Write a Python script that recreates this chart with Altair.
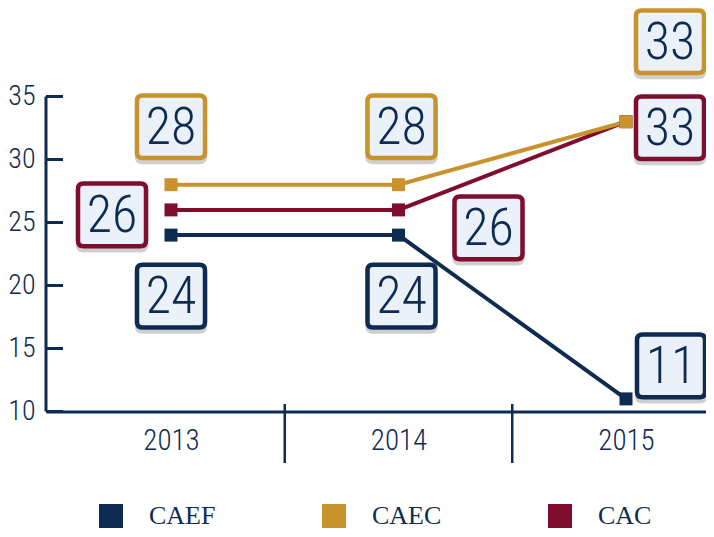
import altair as alt
import pandas as pd

# ---- data ----
years = [2013, 2014, 2015]
series = ["CAEF", "CAEC", "CAC"]
caef = [24, 24, 11]
caec = [28, 28, 33]
cac = [26, 26, 33]
y_ticks = [10, 15, 20, 25, 30, 35]
colors = ["#0E2B52", "#C8922D", "#7F0D2E"]

# ---- layout / style ----
NAVY = colors[0]
NARROW = "Roboto Condensed"
SERIF = "Liberation Serif"
W, H = 660, 403.5
PX_YEAR = 227.5
PX_UNIT = 12.6
X0 = 2013 - 125 / PX_YEAR
X1 = X0 + W / PX_YEAR
Y0 = 10
Y1 = Y0 + H / PX_UNIT

values = {"CAEF": caef, "CAEC": caec, "CAC": cac}
col = dict(zip(series, colors))
draw_order = ["CAEF", "CAC", "CAEC"]

# label box offsets from the data point, in pixels (right, down)
label_offsets = {
    ("CAEF", 2013): (0, 61), ("CAEF", 2014): (3, 61), ("CAEF", 2015): (45, -33),
    ("CAC", 2013): (-59, 5), ("CAC", 2014): (90, 18), ("CAC", 2015): (44, 6),
    ("CAEC", 2013): (0, -58), ("CAEC", 2014): (3, -58), ("CAEC", 2015): (44, -80),
}

rows = [dict(series=s, year=y, value=v)
        for s in draw_order for y, v in zip(years, values[s])]
df = pd.DataFrame(rows)

lab_rows = []
for s in draw_order:
    for y, v in zip(years, values[s]):
        dx, dy = label_offsets[(s, y)]
        lab_rows.append(dict(series=s, lx=y + dx / PX_YEAR, ly=v - dy / PX_UNIT, text=str(v)))
labs = pd.DataFrame(lab_rows)

ticks_df = pd.DataFrame({"t": y_ticks})
yline_df = pd.DataFrame({"a": [max(y_ticks)], "b": [min(y_ticks)]})
bounds_df = pd.DataFrame({"b": [(a + b) / 2 for a, b in zip(years[:-1], years[1:])]})

xscale = alt.Scale(domain=[X0, X1], nice=False, zero=False)
yscale = alt.Scale(domain=[Y0, Y1], nice=False, zero=False)

x_axis = alt.Axis(values=years, format="d", ticks=False, tickSize=0, grid=False, domain=True,
                  domainColor=NAVY, domainWidth=3, labelFont=NARROW, labelFontSize=29,
                  labelFontWeight=300, labelColor=NAVY, labelPadding=15, title=None)
y_axis = alt.Axis(values=y_ticks, ticks=False, tickSize=0, grid=False, domain=False,
                  labelFont=NARROW, labelFontSize=28, labelFontWeight=300, labelColor=NAVY,
                  labelPadding=11, title=None)


def X(field):
    return alt.X(field, scale=xscale, axis=x_axis)


def Y(field):
    return alt.Y(field, scale=yscale, axis=y_axis)


layers = []

# y tick marks drawn inward
layers.append(alt.Chart(ticks_df).mark_rule(color=NAVY, strokeWidth=3).encode(
    y=Y("t:Q"), x=alt.value(0), x2=alt.value(17)
))

# x axis carrier
layers.append(alt.Chart(pd.DataFrame({"year": years})).mark_point(opacity=0).encode(
    x=X("year:Q"), y=alt.value(H)
))

# y axis line from 10 to 35
layers.append(alt.Chart(yline_df).mark_rule(color=NAVY, strokeWidth=3).encode(
    x=alt.value(0), y=Y("a:Q"), y2="b:Q"
))

# category separators
layers.append(alt.Chart(bounds_df).mark_rule(color=NAVY, strokeWidth=2.5).encode(
    x=X("b:Q"), y=alt.value(H - 7.5), y2=alt.value(H + 51.5)
))

for s in draw_order:
    layers.append(
        alt.Chart(df[df.series == s]).mark_line(color=col[s], strokeWidth=4).encode(
            x=X("year:Q"), y=Y("value:Q")
        )
    )

layers.append(alt.Chart(df).mark_point(shape="square", filled=True, size=169, opacity=1).encode(
    x=X("year:Q"), y=Y("value:Q"),
    color=alt.Color("series:N", scale=alt.Scale(domain=series, range=colors),
                    legend=alt.Legend(title=None, orient="none", legendX=52, legendY=495,
                                      direction="horizontal", symbolType="square",
                                      symbolSize=576, symbolStrokeWidth=0, symbolOpacity=1,
                                      labelFont=SERIF, labelFontSize=26, labelColor=NAVY,
                                      labelOffset=25, columnPadding=105, padding=0)),
))

BOX = ("M -0.84 -0.92 L 0.84 -0.92 Q 1 -0.92 1 -0.76 L 1 0.76 Q 1 0.92 0.84 0.92 "
       "L -0.84 0.92 Q -1 0.92 -1 0.76 L -1 -0.76 Q -1 -0.92 -0.84 -0.92 Z")

layers.append(alt.Chart(labs).mark_point(shape=BOX, size=68 * 68, filled=True, fill="#cfcfcf",
                                         stroke="#cfcfcf", strokeWidth=4.5, opacity=1,
                                         yOffset=4).encode(
    x=X("lx:Q"), y=Y("ly:Q")
))

layers.append(alt.Chart(labs).mark_point(shape=BOX, size=68 * 68, filled=False, fill="#EAF1F8",
                                         fillOpacity=1, strokeWidth=4.5, opacity=1).encode(
    x=X("lx:Q"), y=Y("ly:Q"),
    stroke=alt.Stroke("series:N", scale=alt.Scale(domain=series, range=colors), legend=None),
))

layers.append(alt.Chart(labs).mark_text(font=NARROW, fontSize=52, fontWeight=300, color=NAVY,
                                        baseline="middle", align="center", dy=1).encode(
    x=X("lx:Q"), y=Y("ly:Q"), text="text:N"
))

chart = alt.layer(*layers).properties(
    width=W, height=H,
    autosize=alt.AutoSizeParams(type="none"),
    padding={"left": 38, "top": 0, "right": 0, "bottom": 117.5},
    background="white",
).configure_view(stroke=None)

chart.save("out.html", embed_options={"renderer": "svg", "actions": False})
